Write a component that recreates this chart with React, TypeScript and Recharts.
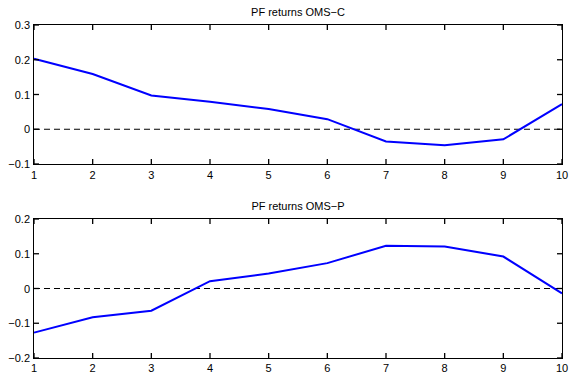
import { LineChart, Line, XAxis, YAxis, ReferenceLine } from 'recharts'

const PERIODS = [1, 2, 3, 4, 5, 6, 7, 8, 9, 10]
const OMS_C = [0.203, 0.159, 0.097, 0.079, 0.058, 0.029, -0.035, -0.046, -0.029, 0.072]
const OMS_P = [-0.127, -0.083, -0.064, 0.021, 0.043, 0.073, 0.123, 0.121, 0.092, -0.014]
const C_TICKS = [-0.1, 0, 0.1, 0.2, 0.3]
const P_TICKS = [-0.2, -0.1, 0, 0.1, 0.2]

const FONT = 'Liberation Sans, Arial, Helvetica, sans-serif'
const TICK_LEN = 5
const WIDTH = 569
const LEFT = 34
const RIGHT = 7
const PLOT_W = WIDTH - LEFT - RIGHT

const fmt = (v: number): string => (v < 0 ? '\u2212' + String(-v) : String(v))

// MATLAB-style inward ticks on both sides of the box. tickSize is 0 so x/y sit on the frame
function XTick(props: any): JSX.Element {
  const { x, y, payload, labelGap, plotH } = props
  const top = y - plotH
  return (
    <g>
      <line x1={x} y1={y} x2={x} y2={y - TICK_LEN} stroke="#000" strokeWidth={1.3} />
      <line x1={x} y1={top} x2={x} y2={top + TICK_LEN} stroke="#000" strokeWidth={1.3} />
      <text x={x} y={y + labelGap} textAnchor="middle" fontSize={11} fontFamily={FONT} fill="#000">
        {payload.value}
      </text>
    </g>
  )
}

function YTick(props: any): JSX.Element {
  const { x, y, payload } = props
  const right = x + PLOT_W
  return (
    <g>
      <line x1={x} y1={y} x2={x + TICK_LEN} y2={y} stroke="#000" strokeWidth={1.3} />
      <line x1={right} y1={y} x2={right - TICK_LEN} y2={y} stroke="#000" strokeWidth={1.3} />
      <text x={x - 4} y={y + 4} textAnchor="end" fontSize={11} fontFamily={FONT} fill="#000">
        {fmt(payload.value)}
      </text>
    </g>
  )
}

interface PanelProps {
  title: string
  values: number[]
  ticks: number[]
  height: number
  top: number
  bottom: number
  titleY: number
  labelGap: number
}

function Panel({ title, values, ticks, height, top, bottom, titleY, labelGap }: PanelProps): JSX.Element {
  const data = PERIODS.map((p, i) => ({ period: p, value: values[i] }))
  const lo = ticks[0]
  const hi = ticks[ticks.length - 1]
  const plotH = height - top - bottom
  return (
    <div style={{ position: 'relative', width: WIDTH, height }}>
      <div
        style={{
          position: 'absolute',
          left: LEFT,
          width: PLOT_W,
          top: titleY,
          textAlign: 'center',
          fontFamily: FONT,
          fontSize: 11,
          lineHeight: '13px',
          color: '#000'
        }}
      >
        {title}
      </div>
      <LineChart width={WIDTH} height={height} data={data} margin={{ top, right: RIGHT, bottom: 0, left: 0 }}>
        <XAxis
          dataKey="period"
          type="number"
          domain={[1, 10]}
          ticks={PERIODS}
          height={bottom}
          tickSize={0}
          tickMargin={0}
          tickLine={false}
          axisLine={false}
          tick={<XTick labelGap={labelGap} plotH={plotH} />}
          interval={0}
        />
        <YAxis
          type="number"
          domain={[lo, hi]}
          ticks={ticks}
          width={LEFT}
          tickSize={0}
          tickMargin={0}
          tickLine={false}
          axisLine={false}
          tick={<YTick />}
          interval={0}
        />
        <ReferenceLine y={0} stroke="#000" strokeDasharray="6 4" />
        <Line
          type="linear"
          dataKey="value"
          stroke="#0000ff"
          strokeWidth={2}
          dot={false}
          isAnimationActive={false}
        />
      </LineChart>
      {/* axes box drawn as a crisp border over the plot area */}
      <div
        style={{
          position: 'absolute',
          left: LEFT - 1,
          top: top - 1,
          width: PLOT_W + 2,
          height: plotH + 2,
          border: '1px solid #000',
          boxSizing: 'border-box',
          pointerEvents: 'none',
          zIndex: 1
        }}
      />
    </div>
  )
}

export default function App(): JSX.Element {
  return (
    <div style={{ width: WIDTH, height: 373, background: '#fff', overflow: 'hidden' }}>
      <style>{'body { margin: 0; }'}</style>
      <Panel
        title={'PF returns OMS\u2212C'}
        values={OMS_C}
        ticks={C_TICKS}
        height={186}
        top={25}
        bottom={22}
        titleY={6}
        labelGap={15}
      />
      <Panel
        title={'PF returns OMS\u2212P'}
        values={OMS_P}
        ticks={P_TICKS}
        height={187}
        top={33}
        bottom={15}
        titleY={14}
        labelGap={14}
      />
    </div>
  )
}
